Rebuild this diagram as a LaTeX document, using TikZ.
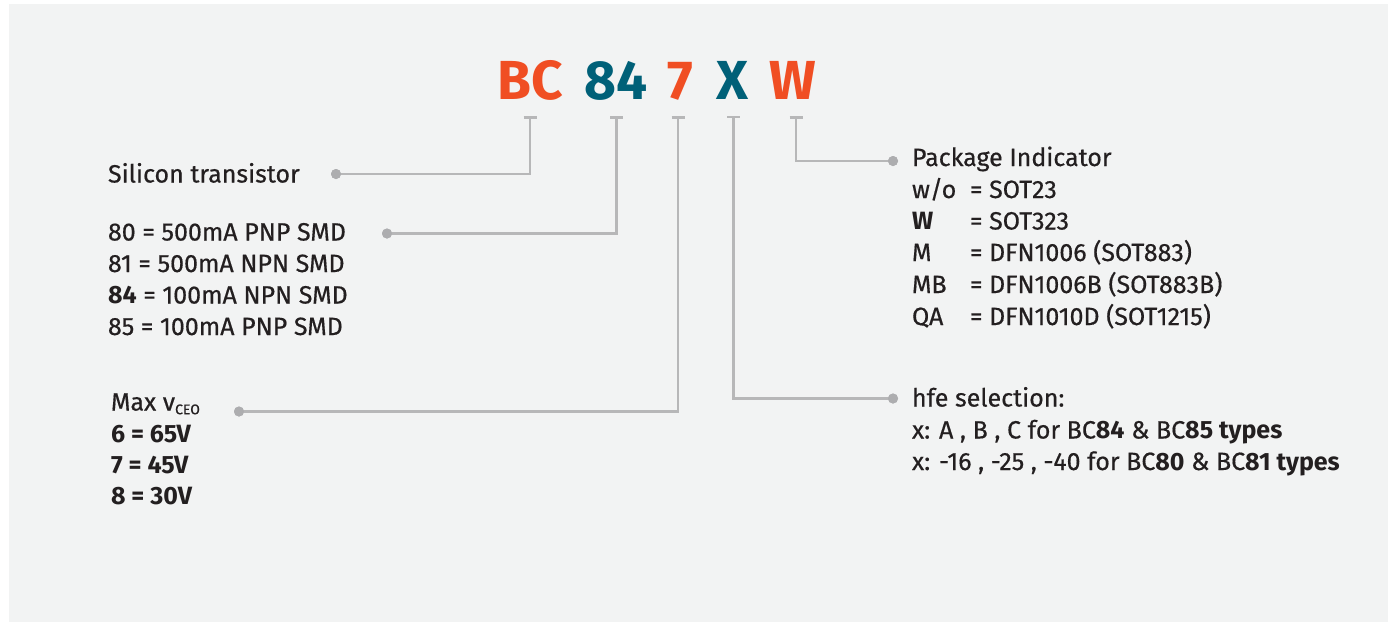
\documentclass[tikz,border=0pt]{standalone}
\usepackage{fontspec}
\setmainfont{Fira Sans}[UprightFeatures={FakeBold=0.5}]
\definecolor{ink}{HTML}{231F20}
\definecolor{panel}{HTML}{F2F3F3}
\definecolor{lg}{HTML}{B7B7B8}
\definecolor{dotg}{HTML}{ADADAF}
\definecolor{orng}{HTML}{F04E23}
\definecolor{teal}{HTML}{006078}
\begin{document}
\begin{tikzpicture}[x=1pt,y=-1pt,
  lbl/.style={anchor=base west,inner sep=0,outer sep=0,font=\fontsize{25}{30}\selectfont,text=ink},
  code/.style={anchor=base,inner sep=0,outer sep=0,font=\fontsize{55}{60}\selectfont\bfseries},
  conn/.style={draw=lg,line width=2.3pt},
  tick/.style={draw=lg,line width=2.3pt},
  dotc/.style={circle,fill=dotg,inner sep=0,outer sep=0,minimum size=10pt},
]
\useasboundingbox (0,0) rectangle (1392,625);
\fill[white] (0,0) rectangle (1392,625);
\fill[panel] (9,4) rectangle (1388,622);

% part code
\node[code,text=orng] (tBC) at (530,99) {BC};
\node[code,text=teal] (t84) at (616.5,99) {84};
\node[code,text=orng] (t7) at (680.5,99) {7};
\node[code,text=teal] (tX) at (732.5,99) {X};
\node[code,text=orng] (tW) at (793,99) {W};

% tick coordinates
\coordinate (kBC) at (530,117.5);
\coordinate (k84) at (616.5,117.5);
\coordinate (k7) at (678,117.5);
\coordinate (kX) at (733.5,117);
\coordinate (kW) at (796,117.5);
\foreach \k in {kBC,k84,k7,kX,kW}{\draw[tick] ([xshift=-6.5pt]\k) -- ([xshift=6.5pt]\k);}

% dots
\node[dotc] (dSi) at (336,174) {};
\node[dotc] (d80) at (387,233.5) {};
\node[dotc] (dMax) at (239,411.5) {};
\node[dotc] (dX) at (893,398.5) {};
\node[dotc] (dW) at (893,161) {};

% connectors
\draw[conn] (dSi.center) -| (kBC);
\draw[conn] (d80.center) -| (k84);
\draw[conn] (dMax.center) -| (k7);
\draw[conn] (dX.center) -| (kX);
\draw[conn] (dW.center) -| (kW);
\node[dotc] at (dSi) {};
\node[dotc] at (d80) {};
\node[dotc] at (dMax) {};
\node[dotc] at (dX) {};
\node[dotc] at (dW) {};

% left texts
\node[lbl] (si) at (108,182.5) {Silicon transistor};
\node[lbl] (l80) at (108,240.5) {80 = 500mA PNP SMD};
\node[lbl] (l81) at (108,272) {81 = 500mA NPN SMD};
\node[lbl] (l84) at (108,303.5) {\textbf{84} = 100mA NPN SMD};
\node[lbl] (l85) at (108,335) {85 = 100mA PNP SMD};

\node[lbl] (mx) at (111,410.5) {Max v\textsubscript{\fontsize{14}{15}\selectfont CEO}};
\node[lbl] (m6) at (111,442) {\textbf{6 = 65V}};
\node[lbl] (m7) at (111,473) {\textbf{7 = 45V}};
\node[lbl] (m8) at (111,504.5) {\textbf{8 = 30V}};

% right texts
\node[lbl] (pk) at (912,166) {Package Indicator};
\node[lbl] (p1) at (912,198) {w/o};
\node[lbl] (p1b) at (970,198) {= SOT23};
\node[lbl] (p2) at (912,229.5) {\textbf{W}};
\node[lbl] (p2b) at (970,229.5) {= SOT323};
\node[lbl] (p3) at (912,261) {M};
\node[lbl] (p3b) at (970,261) {= DFN1006 (SOT883)};
\node[lbl] (p4) at (912,293) {MB};
\node[lbl] (p4b) at (970,293) {= DFN1006B (SOT883B)};
\node[lbl] (p5) at (912,325) {QA};
\node[lbl] (p5b) at (970,325) {= DFN1010D (SOT1215)};

\node[lbl] (hf) at (912,406.5) {hfe selection:};
\node[lbl] (h1) at (912,438.5) {x: A , B , C for BC\textbf{84} \& BC\textbf{85 types}};
\node[lbl] (h2) at (912,470) {x: -16 , -25 , -40 for BC\textbf{80} \& BC\textbf{81 types}};
\end{tikzpicture}
\end{document}
